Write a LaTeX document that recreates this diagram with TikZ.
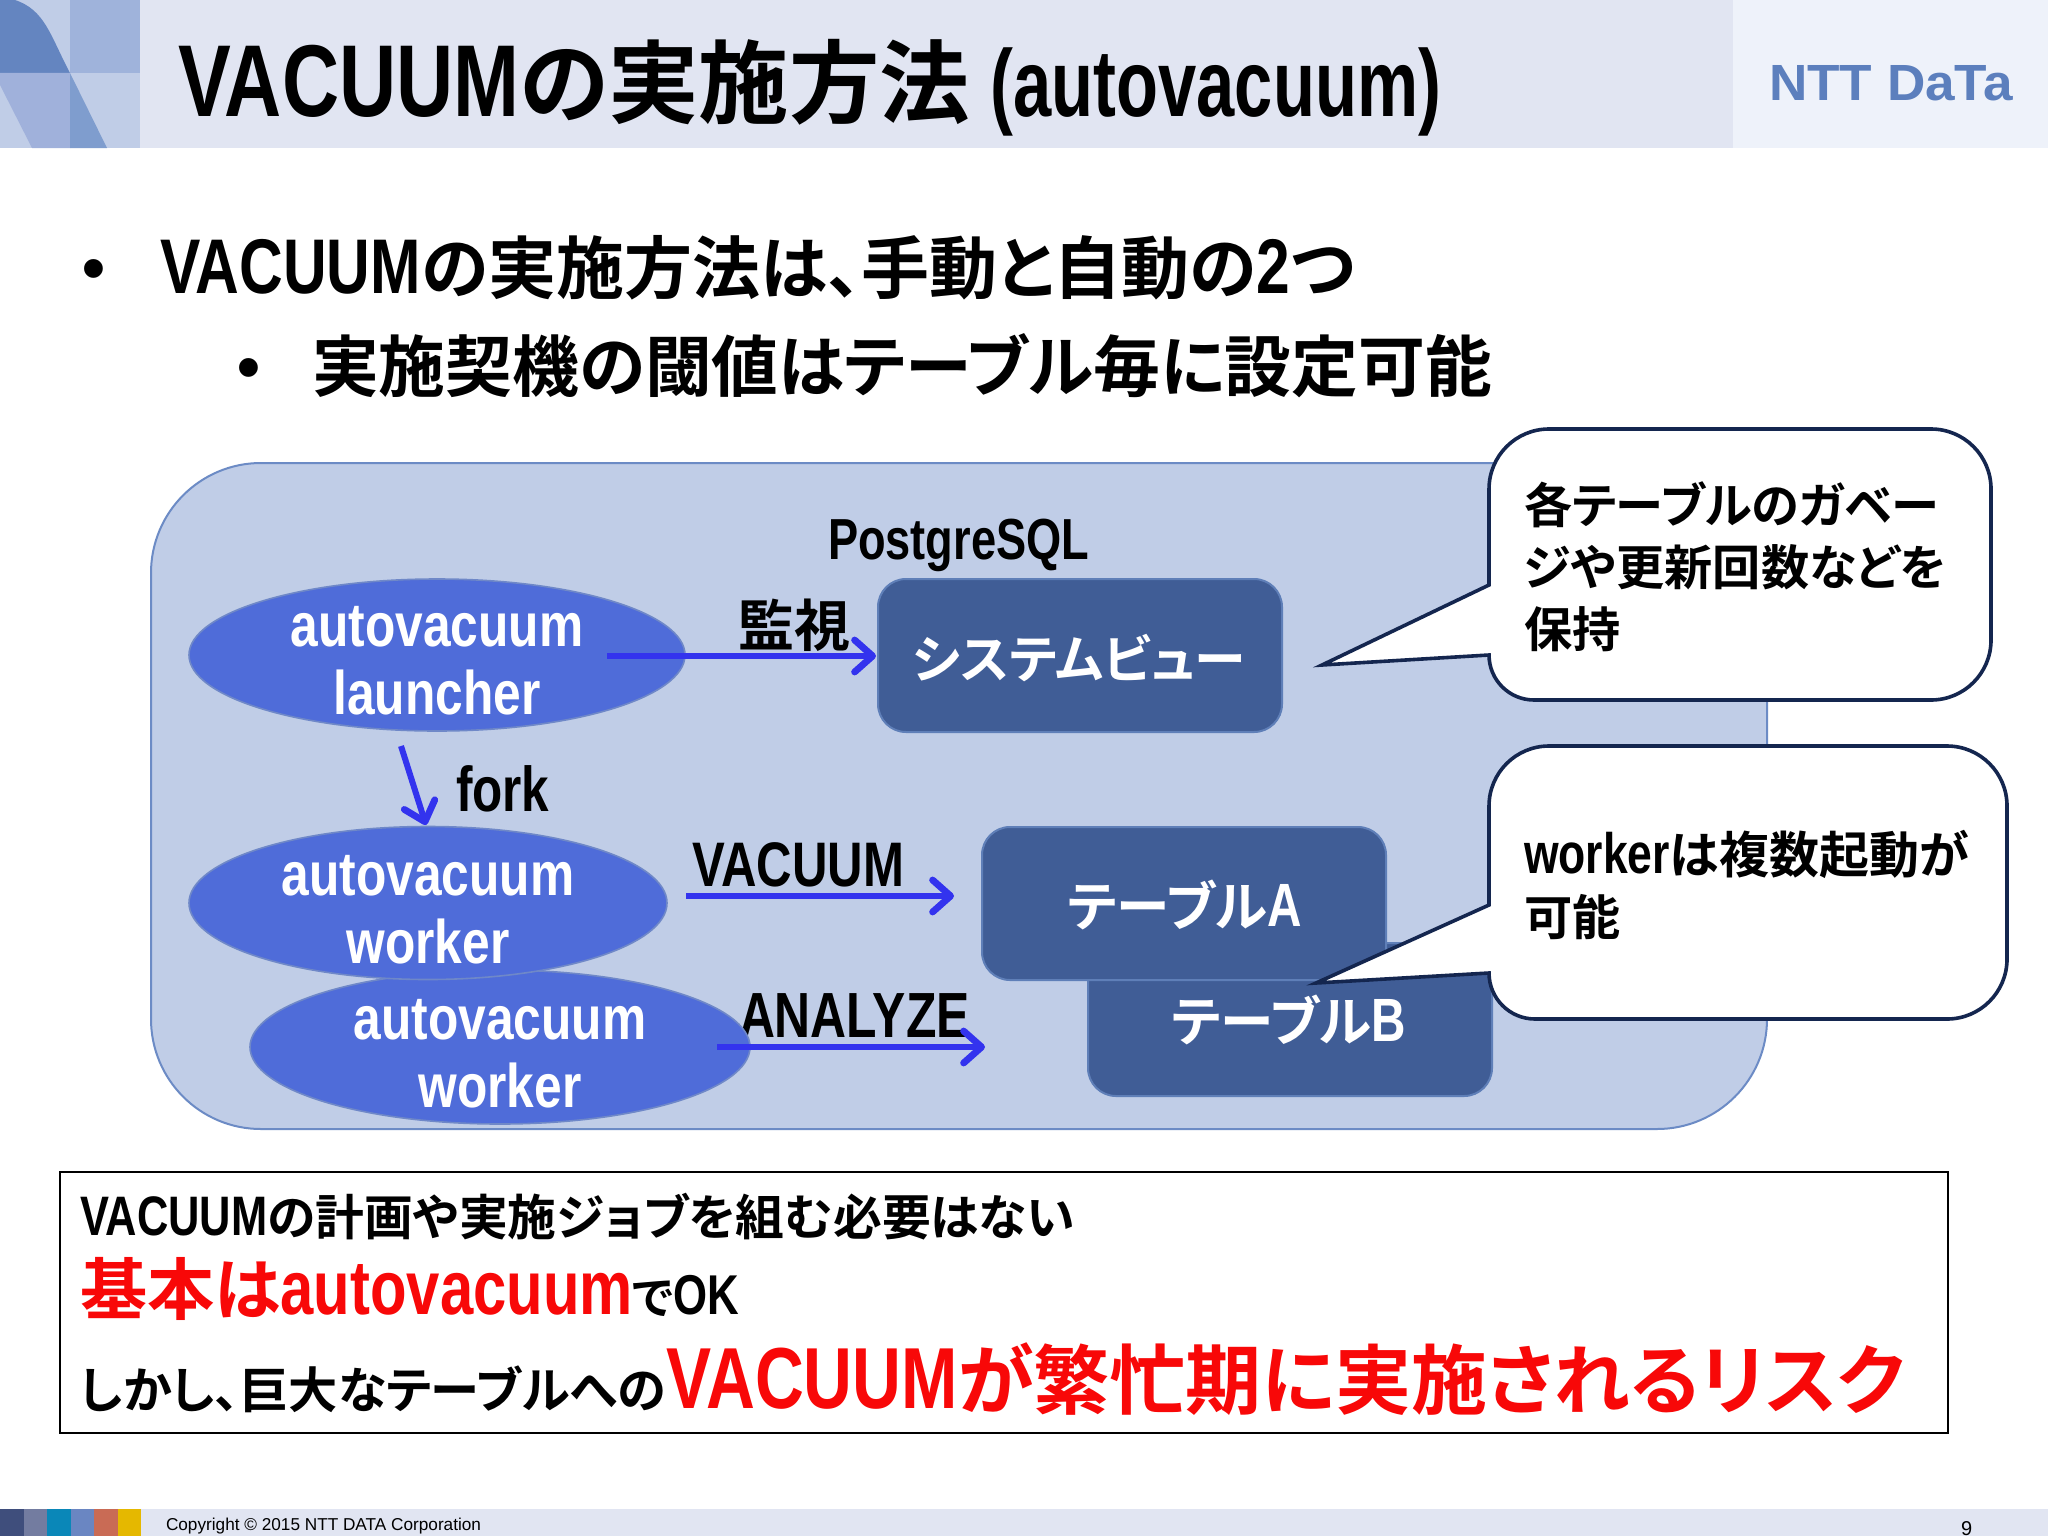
\documentclass[tikz,border=0pt]{standalone}
\usepackage{fontspec}
\usepackage{graphicx}
\usetikzlibrary{shapes.geometric,arrows.meta}
\setmainfont{Noto Sans CJK JP}[BoldFont={* Bold},RawFeature={+palt}]
\newfontfamily\latf{Liberation Sans}
\newcommand\lat[1]{\scalebox{0.89}[1.14]{\latf\bfseries #1}}
\newcommand\latw[1]{\scalebox{0.92}[1.14]{\latf\bfseries #1}}
\newcommand\fs[1]{\fontsize{#1}{#1}\selectfont\bfseries}
\definecolor{hdr}{HTML}{E1E5F2}
\definecolor{logobg}{HTML}{EEF2FA}
\definecolor{pgfill}{HTML}{C0CDE7}
\definecolor{pgline}{HTML}{6C8BC5}
\definecolor{ell}{HTML}{4F6CD9}
\definecolor{ellb}{HTML}{6F88C8}
\definecolor{tbl}{HTML}{405D96}
\definecolor{tblb}{HTML}{5F7FB8}
\definecolor{arr}{HTML}{3333EE}
\definecolor{navy}{HTML}{14264F}
\definecolor{redt}{HTML}{F80808}
\definecolor{logot}{HTML}{5C7FBD}
\tikzset{
 txt/.style={anchor=base west,inner sep=0pt,outer sep=0pt},
 ctr/.style={anchor=base,inner sep=0pt,outer sep=0pt},
 wtxt/.style={ctr,text=white},
 pgbox/.style={draw=pgline,fill=pgfill,line width=1pt,rounded corners=55pt,anchor=north west,inner sep=0pt,minimum width=808pt,minimum height=333pt},
 tbox/.style={draw=tblb,fill=tbl,line width=1pt,rounded corners=14pt,anchor=north west,inner sep=0pt,minimum width=202pt,minimum height=76.5pt},
 proc/.style={ellipse,draw=ellb,fill=ell,line width=.8pt,inner sep=0pt},
 flow/.style={draw=arr,line width=3pt,-{Straight Barb[length=9pt,width=16pt,line width=3.4pt,round]}},
 call/.style={draw=navy,fill=white,line width=1.8pt,line join=miter},
}
\begin{document}
\begin{tikzpicture}[x=0.5pt,y=-0.5pt]
\useasboundingbox (0,0) rectangle (2048,1536);
\fill[white] (0,0) rectangle (2048,1536);
% header
\fill[hdr] (140,0) rectangle (1733,148);
\fill[logobg] (1733,0) rectangle (2048,148);
\fill[pgfill] (0,0) rectangle (140,148);
\fill[color={rgb,255:red,159;green,179;blue,219}] (70,0) rectangle (140,73);
\fill[color={rgb,255:red,100;green,133;blue,192}] (0,0) -- (15,0) .. controls (45,10) and (50,35) .. (70,73) -- (0,73) -- cycle;
\fill[color={rgb,255:red,160;green,177;blue,219}] (0,73) -- (70,73) -- (70,148) -- (32,148) -- (0,85) -- cycle;
\fill[color={rgb,255:red,127;green,157;blue,206}] (70,73) -- (107,148) -- (70,148) -- cycle;
\node[txt] (title) at (178,117) {\fs{45.2}\scalebox{0.875}[1.13]{\latf\bfseries VACUUM}の実施方法 \scalebox{0.76}[1.05]{\latf\bfseries (autovacuum)}};
\node[txt,text=logot] (logo) at (1769,100) {\resizebox{122pt}{17.5pt}{\latf\bfseries NTT DaTa}};
% bullets
\node[txt] (b1d) at (82,290) {\fs{32.7}\latf •};
\node[txt] (b1) at (160,293) {\fs{34}\lat{VACUUM}の実施方法は、手動と自動の\lat{2}つ};
\node[txt] (b2d) at (237,389) {\fs{32.7}\latf •};
\node[txt] (b2) at (312,391) {\fs{33.4}実施契機の閾値はテーブル毎に設定可能};
% PostgreSQL frame
\node[pgbox] (pg) at (150,462) {};
\node[txt] (pgl) at (828,559) {\fs{25.4}\lat{PostgreSQL}};
\node[txt] (mon) at (738,646) {\fs{28}監視};
\node[txt] (vacl) at (692,886) {\fs{27.6}\lat{VACUUM}};
\node[txt] (anal) at (739,1037) {\fs{28}\lat{ANALYZE}};
\node[txt] (fork) at (456,811) {\fs{27.8}\lat{fork}};
% tables
\node[tbox] (sys) at (877,578) {};
\node[wtxt] (syst) at (1079,678) {\fs{25.9}システムビュー};
\node[tbox] (tb) at (1087,942) {};
\node[wtxt] (tbt) at (1289,1041) {\fs{26.8}テーブル\lat{B}};
\node[tbox] (ta) at (981,826) {};
\node[wtxt] (tat) at (1185,926) {\fs{26.8}テーブル\lat{A}};
% processes
\node[proc,minimum width=248pt,minimum height=76pt] (e1) at (437,655) {};
\node[wtxt] (e1a) at (437,646) {\fs{27}\latw{autovacuum}};
\node[wtxt] (e1b) at (437,714) {\fs{27}\latw{launcher}};
\node[proc,minimum width=250pt,minimum height=77pt] (e3) at (500,1047) {};
\node[proc,minimum width=239pt,minimum height=76.5pt] (e2) at (428,903) {};
\node[wtxt] (e2a) at (428,895) {\fs{27}\latw{autovacuum}};
\node[wtxt] (e2b) at (428,963) {\fs{27}\latw{worker}};
\node[wtxt] (e3a) at (500,1039) {\fs{27}\latw{autovacuum}};
\node[wtxt] (e3b) at (500,1107) {\fs{27}\latw{worker}};
% arrows
\coordinate (a1s) at (607,656);
\coordinate (a1e) at (876,656);
\coordinate (a2s) at (401,746);
\coordinate (a2e) at (426,825);
\coordinate (a3s) at (686,896);
\coordinate (a3e) at (954,896);
\coordinate (a4s) at (717,1047);
\coordinate (a4e) at (985,1047);
\draw[flow] (a1s) -- (a1e);
\draw[flow] (a2s) -- (a2e);
\draw[flow] (a3s) -- (a3e);
\draw[flow] (a4s) -- (a4e);
% callouts
\draw[call] (1489,585) -- (1322,665) -- (1489,655) arc[start angle=180,end angle=90,radius=45] -- (1931,700) arc[start angle=90,end angle=0,radius=60] -- (1991,489) arc[start angle=0,end angle=-90,radius=60] -- (1549,429) arc[start angle=-90,end angle=-180,radius=60] -- cycle;
\node[txt] (c1a) at (1524,523) {\fs{24.1}各テーブルのガベー};
\node[txt] (c1b) at (1524,585) {\fs{24.1}ジや更新回数などを};
\node[txt] (c1c) at (1524,647) {\fs{24.1}保持};
\draw[call] (1489,905) -- (1316,983) -- (1489,973) arc[start angle=180,end angle=90,radius=46] -- (1947,1019) arc[start angle=90,end angle=0,radius=60] -- (2007,806) arc[start angle=0,end angle=-90,radius=60] -- (1549,746) arc[start angle=-90,end angle=-180,radius=60] -- cycle;
\node[txt] (c2a) at (1524,873) {\fs{25}\lat{worker}は複数起動が};
\node[txt] (c2b) at (1524,935) {\fs{24.1}可能};
% bottom box
\node[draw=black,fill=white,line width=1pt,anchor=north west,inner sep=0pt,minimum width=944pt,minimum height=130.5pt] (note) at (59,1171) {};
\node[txt] (n1) at (80,1235) {\fs{24.4}\lat{VACUUM}の計画や実施ジョブを組む必要はない};
\node[txt] (n2) at (80,1314) {\fs{33.6}\textcolor{redt}{基本は\lat{autovacuum}}\fs{22.5}\textcolor{black}{で}\fs{24.6}\lat{OK}};
\node[txt] (n3) at (80,1408) {\fs{24.6}しかし、巨大なテーブルへの\textcolor{redt}{\fs{38}\lat{VACUUM}が繁忙期に実施されるリスク}};
% footer
\fill[hdr] (141,1509) rectangle (2048,1536);
\foreach \c/\i in {3F4E7C/0,737CA0/1,0A87B8/2,6A86C2/3,C96B55/4,E5B800/5}{
 \definecolor{tmpc}{HTML}{\c}
 \fill[tmpc] ({\i*23.5},1509) rectangle ({(\i+1)*23.5},1536);
}
\node[txt] (copy) at (166,1530) {\fontsize{8.6}{9}\latf Copyright © 2015 NTT DATA Corporation};
\node[txt] (page) at (1961,1535) {\fontsize{10}{10}\latf 9};
\end{tikzpicture}
\end{document}
